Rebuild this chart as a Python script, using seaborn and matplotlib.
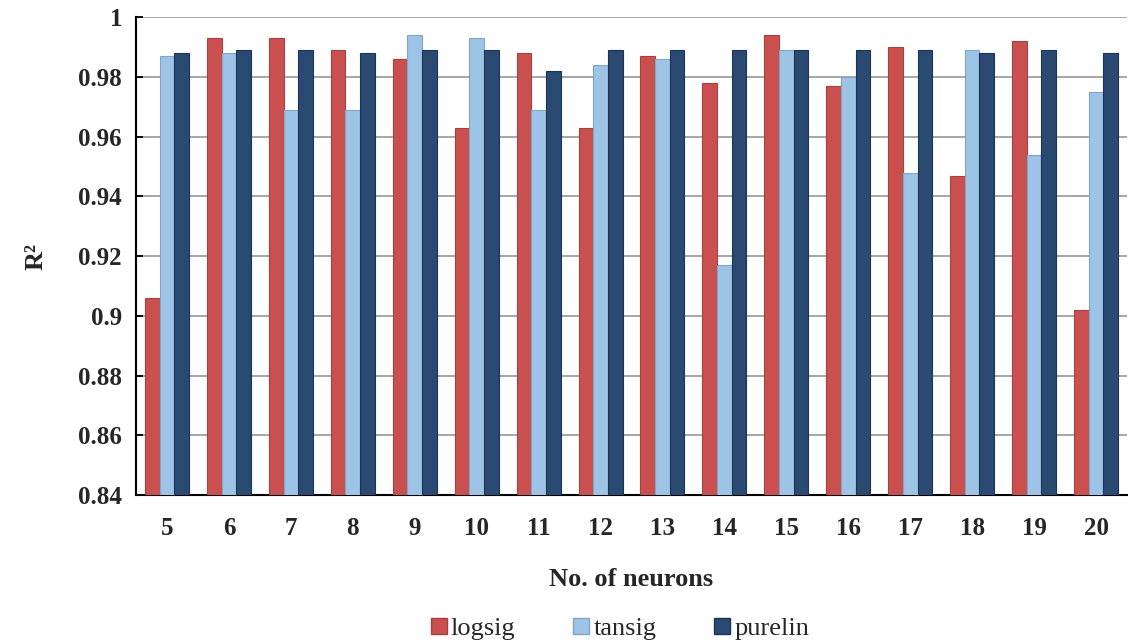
import pandas as pd
import seaborn as sns
import matplotlib.pyplot as plt
from matplotlib.patches import Patch
from matplotlib.ticker import FixedLocator, FuncFormatter

# values
neurons = [5, 6, 7, 8, 9, 10, 11, 12, 13, 14, 15, 16, 17, 18, 19, 20]
logsig = [0.906, 0.993, 0.993, 0.989, 0.986, 0.963, 0.988, 0.963,
          0.987, 0.978, 0.994, 0.977, 0.990, 0.947, 0.992, 0.902]
tansig = [0.987, 0.988, 0.969, 0.969, 0.994, 0.993, 0.969, 0.984,
          0.986, 0.917, 0.989, 0.980, 0.948, 0.989, 0.954, 0.975]
purelin = [0.988, 0.989, 0.989, 0.988, 0.989, 0.989, 0.982, 0.989,
           0.989, 0.989, 0.989, 0.989, 0.989, 0.988, 0.989, 0.988]
series_names = ['logsig', 'tansig', 'purelin']
y_ticks = [0.84, 0.86, 0.88, 0.90, 0.92, 0.94, 0.96, 0.98, 1.00]

colors = {'logsig': '#C9504E', 'tansig': '#9DC3E6', 'purelin': '#2A4A72'}
edges = {'logsig': '#A8403E', 'tansig': '#7FA5C8', 'purelin': '#1B3556'}

df = pd.DataFrame({
    'neurons': [str(n) for n in neurons] * 3,
    'R2': logsig + tansig + purelin,
    'func': [s for s in series_names for _ in neurons],
})

sns.set_style('white')
plt.rcParams['font.family'] = ['Liberation Serif', 'DejaVu Serif']

fig = plt.figure(figsize=(11.28, 6.42), dpi=100)
ax = fig.add_axes([136 / 1128, 1 - 495 / 642, 991 / 1128, (495 - 17.3) / 642])

sns.barplot(data=df, x='neurons', y='R2', hue='func', palette=colors,
            hue_order=series_names, width=0.71, gap=0, saturation=1,
            legend=False, ax=ax, zorder=3)

# darker edges like the shaded bars of the original
for cont, name in zip(ax.containers, series_names):
    for bar in cont:
        bar.set_edgecolor(edges[name])
        bar.set_linewidth(0.8)

ax.set_ylim(0.84, 1.0)
ax.set_xlim(-0.5, len(neurons) - 0.5)
ax.yaxis.set_major_locator(FixedLocator(y_ticks))
ax.yaxis.set_major_formatter(FuncFormatter(lambda v, p: f'{v:g}'))
ax.grid(axis='y', color='#A6A6A6', linewidth=1.4, zorder=0)
ax.set_axisbelow(True)

for s in ['top', 'right']:
    ax.spines[s].set_visible(False)
for s in ['left', 'bottom']:
    ax.spines[s].set_color('black')
    ax.spines[s].set_linewidth(1.5)

# tick marks between the groups, as in the original
ax.xaxis.set_minor_locator(FixedLocator([i + 0.5 for i in range(len(neurons) - 1)]))
ax.tick_params(axis='x', which='major', length=0, pad=16)
ax.tick_params(axis='x', which='minor', direction='in', length=5, width=1.3, color='black')
ax.tick_params(axis='y', direction='in', length=5, width=1.3, color='black', pad=10, left=True)

for lab in ax.get_xticklabels() + ax.get_yticklabels():
    lab.set_fontsize(18)
    lab.set_fontweight('bold')

ax.set_xlabel('No. of neurons', fontsize=19, fontweight='bold', labelpad=20)
ax.set_ylabel('R²', fontsize=19, fontweight='bold', labelpad=22)

handles = [Patch(facecolor=colors[n], edgecolor=edges[n]) for n in series_names]
fig.legend(handles, series_names, loc='center', ncol=3, frameon=False,
           bbox_to_anchor=(620 / 1128, 1 - 629 / 642), fontsize=19,
           handlelength=0.6, handleheight=0.6, handletextpad=0.15,
           columnspacing=2.2)

fig.savefig('out.png', dpi=100)
